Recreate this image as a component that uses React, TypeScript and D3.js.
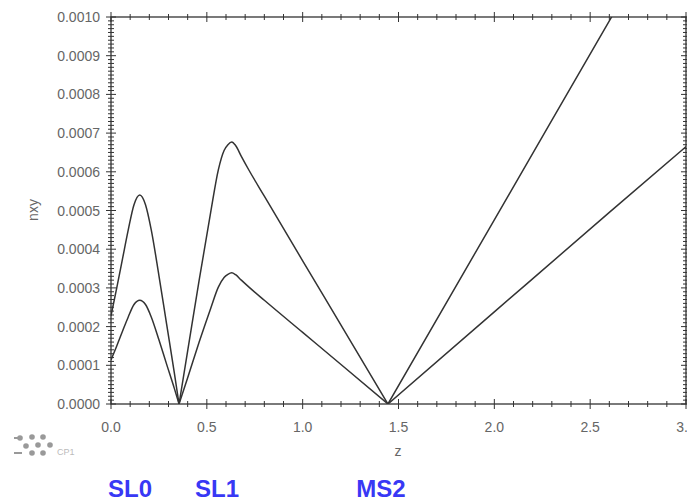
import React from "react";
import * as d3 from "d3";

const zValues = [0, 0.03, 0.06, 0.09, 0.12, 0.15, 0.18, 0.21, 0.25, 0.29, 0.33, 0.355, 0.40, 0.46, 0.52, 0.56, 0.59, 0.61, 0.63, 0.65, 0.68, 0.72, 0.80, 1.00, 1.20, 1.445, 2.00, 2.60, 3.00];
const upperSeries = [0.000228, 0.000300, 0.000375, 0.000450, 0.000515, 0.000540, 0.000515, 0.000450, 0.000332, 0.000207, 0.000082, 0.0, 0.000137, 0.000320, 0.000495, 0.000605, 0.000655, 0.000670, 0.000677, 0.000668, 0.000640, 0.000604, 0.000537, 0.000370, 0.000204, 0.0, 0.000476, 0.000990, 0.001333];
const lowerSeries = [0.000114, 0.000150, 0.000188, 0.000225, 0.000257, 0.000268, 0.000257, 0.000225, 0.000166, 0.000103, 0.000041, 0.0, 0.000068, 0.000160, 0.000247, 0.000302, 0.000327, 0.000335, 0.000339, 0.000334, 0.000320, 0.000302, 0.000268, 0.000185, 0.000102, 0.0, 0.000238, 0.000495, 0.000665];

const xTickValues = [0, 0.5, 1.0, 1.5, 2.0, 2.5, 3.0];
const xTickLabels = ["0.0", "0.5", "1.0", "1.5", "2.0", "2.5", "3.0"];
const yTickValues = [0, 0.0001, 0.0002, 0.0003, 0.0004, 0.0005, 0.0006, 0.0007, 0.0008, 0.0009, 0.001];
const yTickLabels = ["0.0000", "0.0001", "0.0002", "0.0003", "0.0004", "0.0005", "0.0006", "0.0007", "0.0008", "0.0009", "0.0010"];
const xAxisTitle = "z";
const yAxisTitle = "nxy";
const markerLabels = ["SL0", "SL1", "MS2"];
const markerCenters = [130, 217, 381];

const W = 687;
const H = 503;
const L = 111, R = 686, T = 17, B = 404;

export default function App() {
  const x = d3.scaleLinear().domain([0, 3]).range([L, R]);
  const y = d3.scaleLinear().domain([0, 0.001]).range([B, T]);
  const seg = d3
    .line<[number, number]>()
    .x((d) => x(d[0]))
    .y((d) => y(d[1]))
    .curve(d3.curveMonotoneX);

  // split at zero crossings so the V-shaped minima stay sharp
  const pathFor = (vals: number[]) => {
    const pts: [number, number][] = zValues.map((z, i) => [z, vals[i]]);
    const parts: [number, number][][] = [];
    let cur: [number, number][] = [];
    pts.forEach((p, i) => {
      cur.push(p);
      if (p[1] === 0 && i > 0 && i < pts.length - 1) {
        parts.push(cur);
        cur = [p];
      }
    });
    parts.push(cur);
    return parts.map((p) => seg(p) || "").join(" ");
  };

  const xMinor = d3.range(0, 31).map((i) => i / 10);
  const yMinor = d3.range(0, 101).map((i) => i / 100000);
  const axisColor = "#333";
  const font = "'Liberation Sans', Arial, Helvetica, sans-serif";
  const dots = [
    [20, 438], [32, 437], [43, 437], [38, 445], [50, 445], [32, 453], [43, 453], [26, 446],
  ];

  return (
    <svg width={W} height={H} style={{ position: "absolute", left: 0, top: 0, background: "#fff" }}>
      <defs>
        <clipPath id="plotclip">
          <rect x={L} y={T} width={R - L} height={B - T} />
        </clipPath>
      </defs>
      <rect x={0} y={0} width={W} height={H} fill="#fff" />
      {/* curves */}
      <g clipPath="url(#plotclip)" fill="none" stroke="#333" strokeWidth={1.5}>
        <path d={pathFor(upperSeries)} />
        <path d={pathFor(lowerSeries)} />
      </g>
      {/* frame */}
      <rect x={L} y={T} width={R - L} height={B - T} fill="none" stroke={axisColor} strokeWidth={1.3} />
      {/* left/right ticks */}
      {yMinor.map((v, i) => {
        const major = i % 10 === 0;
        const len = major ? 5 : 3;
        return (
          <g key={"yt" + i} stroke={axisColor} strokeWidth={1}>
            <line x1={L - len} x2={L + len} y1={y(v)} y2={y(v)} />
            <line x1={R - len} x2={R + len} y1={y(v)} y2={y(v)} />
          </g>
        );
      })}
      {/* top/bottom ticks */}
      {xMinor.map((v, i) => {
        const major = i % 5 === 0;
        const len = major ? 5 : 3;
        return (
          <g key={"xt" + i} stroke={axisColor} strokeWidth={1}>
            <line x1={x(v)} x2={x(v)} y1={B - len} y2={B + len} />
            <line x1={x(v)} x2={x(v)} y1={T - len} y2={T + len} />
          </g>
        );
      })}
      {/* y tick labels */}
      {yTickValues.map((v, i) => (
        <text key={"yl" + i} x={100} y={y(v)} dy="0.36em" textAnchor="end" fontFamily={font} fontSize={14} fill="#666">
          {yTickLabels[i]}
        </text>
      ))}
      {/* x tick labels */}
      {xTickValues.map((v, i) => (
        <text key={"xl" + i} x={x(v)} y={432} textAnchor="middle" fontFamily={font} fontSize={14} fill="#666">
          {xTickLabels[i]}
        </text>
      ))}
      <text x={398} y={456} textAnchor="middle" fontFamily={font} fontSize={14} fill="#666">
        {xAxisTitle}
      </text>
      <text transform="translate(38,210) rotate(-90)" textAnchor="middle" fontFamily={font} fontSize={14} fill="#666">
        {yAxisTitle}
      </text>
      {/* logo */}
      <g fill="#999">
        {dots.map((d, i) => (
          <circle key={"d" + i} cx={d[0]} cy={d[1]} r={2.8} />
        ))}
        <rect x={14} y={452} width={8} height={2} />
        <rect x={14} y={437} width={5} height={2} />
      </g>
      <text x={57} y={455} fontFamily={font} fontSize={9} fill="#bbb">CP1</text>
      {/* marker labels */}
      {markerLabels.map((s, i) => (
        <text key={"m" + i} x={markerCenters[i]} y={497} textAnchor="middle" fontFamily={font} fontSize={24} fontWeight="bold" fill="#3838f5">
          {s}
        </text>
      ))}
    </svg>
  );
}
